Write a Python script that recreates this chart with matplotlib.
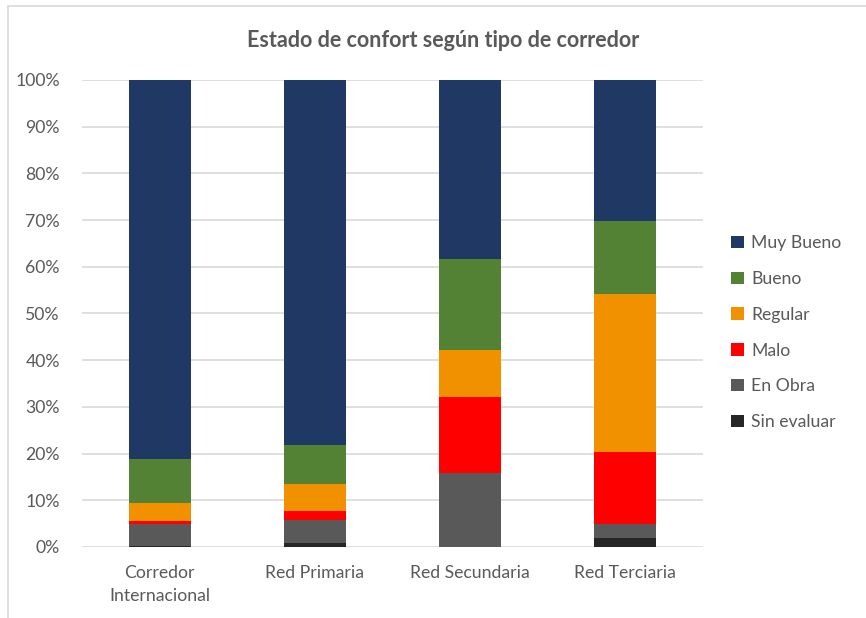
import matplotlib
matplotlib.use("Agg")
import matplotlib.pyplot as plt
import numpy as np
from matplotlib.patches import Rectangle
from matplotlib.ticker import PercentFormatter

# Datos (porcentaje de cada estado por tipo de corredor)
corredores = ["Corredor\nInternacional", "Red Primaria", "Red Secundaria", "Red Terciaria"]
sin_evaluar = [0.2, 0.8, 0.1, 1.9]
en_obra = [4.8, 4.9, 15.7, 3.0]
malo = [0.6, 1.9, 16.3, 15.4]
regular = [3.9, 5.8, 10.0, 33.8]
bueno = [9.3, 8.4, 19.6, 15.8]
muy_bueno = [81.2, 78.2, 38.3, 30.1]

series = [
    ("Sin evaluar", sin_evaluar, "#262626"),
    ("En Obra", en_obra, "#595959"),
    ("Malo", malo, "#ff0000"),
    ("Regular", regular, "#f29100"),
    ("Bueno", bueno, "#548235"),
    ("Muy Bueno", muy_bueno, "#1f3864"),
]

plt.rcParams["font.family"] = ["Lato", "DejaVu Sans"]
texto = "#595959"

fig = plt.figure(figsize=(8.66, 6.18), dpi=100)
ax = fig.add_axes([0.0947, 0.1149, 0.8118 - 0.0947, 0.8706 - 0.1149])

# borde del área del gráfico
fig.patches.append(Rectangle((8 / 866, -0.1), 1.2, 1 - 6 / 618 + 0.1,
                             transform=fig.transFigure, fill=False,
                             edgecolor="#d9d9d9", linewidth=1.2))

x = np.arange(len(corredores))
base = np.zeros(len(corredores))
handles = {}
for nombre, valores, color in series:
    valores = np.array(valores, dtype=float)
    b = ax.bar(x, valores, bottom=base, width=0.4, color=color, label=nombre, zorder=3)
    handles[nombre] = b
    base += valores

ax.set_xlim(-0.5, 3.5)
ax.set_ylim(0, 100)
ax.set_yticks(np.arange(0, 101, 10))
ax.yaxis.set_major_formatter(PercentFormatter(decimals=0))
ax.set_xticks(x)
ax.set_xticklabels(corredores, linespacing=1.55)
ax.grid(axis="y", color="#d9d9d9", linewidth=1.2, zorder=0)
for s in ax.spines.values():
    s.set_visible(False)
ax.tick_params(axis="both", length=0, labelsize=12.7, colors=texto)
ax.tick_params(axis="x", pad=13)
ax.tick_params(axis="y", pad=16)

fig.text(0.512, 0.935, "Estado de confort según tipo de corredor",
         ha="center", va="center", fontsize=15.5, fontweight="bold", color=texto)

orden = ["Muy Bueno", "Bueno", "Regular", "Malo", "En Obra", "Sin evaluar"]
leg = fig.legend([handles[n] for n in orden], orden, loc="upper left",
                 bbox_to_anchor=(0.826, 0.645), frameon=False, fontsize=12.7,
                 labelspacing=1.12, handlelength=0.7, handleheight=0.7,
                 handletextpad=0.45, labelcolor=texto)

fig.savefig("out.png", dpi=100)
